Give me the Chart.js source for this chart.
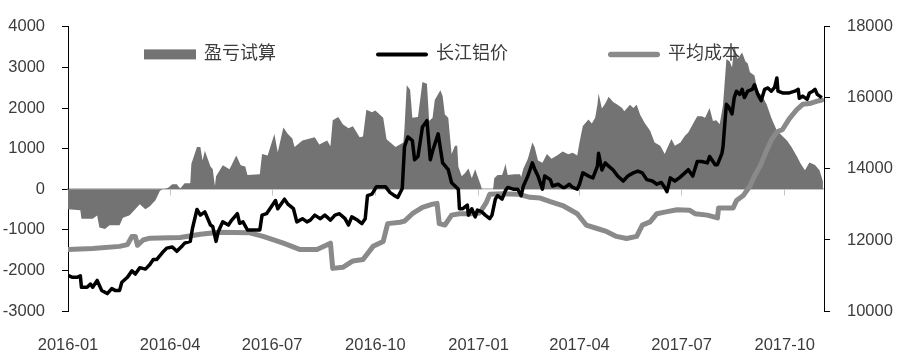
<!DOCTYPE html>
<html lang="zh-CN">

<head>
    <meta charset="UTF-8" />
    <title>盈亏试算 | 长江铝价 | 平均成本</title>
    <script src="https://cdn.jsdelivr.net/npm/chart.js"></script>
    <style>
        body { margin: 0; background: #fff; }
    </style>
</head>

<body>
    <canvas id="profitChart" width="900" height="363"></canvas>

    <script>
        // x values are days counted from 2016-01-01
        const quarterDays = [0, 91, 182, 274, 366, 456, 547, 639];
        const quarterLabels = ['2016-01', '2016-04', '2016-07', '2016-10', '2017-01', '2017-04', '2017-07', '2017-10'];

        // 盈亏试算 (left axis)
        const profitDays = [0, 11, 12, 22, 26, 28, 33, 37, 46, 49, 55, 64, 69, 73, 78, 82, 85, 89, 93, 97, 100, 104, 109, 110, 115, 118, 120, 122, 127, 129, 131, 132, 138, 144, 150, 154, 158, 160, 171, 173, 178, 184, 187, 192, 196, 200, 202, 209, 220, 224, 231, 234, 236, 241, 245, 250, 254, 260, 263, 266, 271, 274, 281, 284, 292, 299, 300, 302, 305, 307, 312, 316, 320, 322, 325, 327, 332, 334, 336, 339, 342, 345, 347, 348, 351, 354, 357, 360, 363, 365, 368, 369, 379, 380, 383, 387, 389, 390, 392, 398, 403, 404, 406, 410, 414, 416, 419, 423, 427, 431, 436, 441, 446, 450, 454, 456, 459, 464, 467, 470, 472, 473, 476, 479, 482, 486, 490, 494, 496, 501, 504, 507, 510, 514, 519, 523, 528, 532, 534, 538, 541, 546, 550, 553, 557, 561, 565, 568, 572, 575, 578, 581, 584, 587, 590, 592, 594, 597, 601, 604, 606, 608, 612, 615, 619, 623, 627, 632, 641, 645, 650, 653, 657, 661, 666, 670, 673];
        const profitValues = [-490, -520, -730, -730, -650, -940, -980, -890, -890, -700, -640, -370, -490, -420, -270, -40, 0, 30, 120, 120, 20, 150, 150, 630, 1040, 1040, 710, 950, 560, 500, 80, 320, 590, 490, 830, 590, 560, 350, 370, 870, 830, 1360, 910, 1520, 1360, 1250, 1040, 1200, 1280, 1100, 1200, 1060, 1700, 1780, 1600, 1500, 1550, 1280, 1300, 1960, 1900, 1940, 1760, 1230, 1040, 1150, 1500, 2560, 2450, 1760, 1780, 2640, 2600, 1680, 1760, 2200, 2440, 2300, 1840, 1760, 870, 1070, 1070, 560, 320, 400, 510, 270, 490, 330, 100, 0, 0, 270, 350, 350, 520, 630, 350, 370, 370, 300, 510, 750, 1150, 1040, 710, 650, 870, 750, 830, 930, 860, 900, 830, 1150, 1560, 1720, 1620, 1760, 2080, 2360, 1990, 2110, 2280, 2150, 2080, 2000, 1920, 2080, 2000, 2080, 1840, 1640, 1440, 1150, 1070, 870, 1000, 1240, 1070, 1150, 1320, 1400, 1600, 1800, 1800, 1760, 2000, 1680, 1700, 1600, 2080, 3210, 3150, 3000, 3530, 3210, 3370, 3150, 3100, 2880, 2800, 2400, 2300, 2080, 1760, 1440, 1200, 1040, 800, 640, 470, 660, 600, 470, 200];

        // 长江铝价 (right axis)
        const priceDays = [0, 4, 8, 11, 12, 17, 20, 22, 26, 30, 35, 39, 42, 46, 48, 53, 57, 60, 64, 69, 73, 76, 79, 84, 88, 93, 97, 102, 104, 109, 111, 115, 118, 122, 127, 129, 132, 134, 138, 143, 146, 151, 153, 156, 160, 167, 171, 173, 177, 182, 185, 187, 193, 196, 201, 204, 209, 213, 216, 220, 225, 229, 234, 238, 242, 247, 250, 253, 258, 262, 265, 267, 271, 275, 283, 287, 291, 294, 298, 300, 303, 307, 309, 312, 316, 320, 323, 325, 330, 334, 339, 342, 345, 348, 349, 352, 356, 357, 360, 363, 365, 369, 372, 376, 378, 381, 383, 387, 390, 392, 397, 401, 404, 406, 410, 414, 416, 419, 423, 425, 430, 432, 437, 441, 443, 447, 450, 454, 456, 459, 464, 468, 472, 473, 476, 479, 482, 486, 490, 495, 499, 504, 508, 512, 516, 521, 525, 529, 532, 534, 537, 541, 545, 550, 553, 557, 561, 565, 570, 572, 577, 579, 583, 584, 586, 587, 589, 592, 594, 596, 599, 601, 603, 606, 610, 612, 615, 618, 621, 624, 627, 630, 632, 633, 637, 643, 648, 651, 652, 655, 659, 661, 664, 666, 668, 672];
        const priceValues = [11000, 10950, 10950, 10990, 10670, 10670, 10760, 10670, 10860, 10580, 10490, 10630, 10580, 10580, 10810, 10950, 11130, 11040, 11220, 11180, 11310, 11450, 11450, 11640, 11770, 11800, 11680, 11840, 11910, 11960, 12330, 12860, 12700, 12790, 12420, 12380, 11960, 12240, 12510, 12420, 12560, 12740, 12470, 12510, 12280, 12280, 12280, 12700, 12740, 12970, 13110, 12880, 13150, 13010, 12880, 12510, 12600, 12510, 12560, 12700, 12600, 12700, 12560, 12700, 12740, 12600, 12420, 12650, 12560, 12460, 12600, 13250, 13290, 13500, 13500, 13340, 13250, 13200, 13450, 14630, 14900, 14800, 14260, 14350, 15180, 15360, 14260, 14500, 14990, 14170, 13980, 13610, 13520, 13430, 12880, 12880, 12980, 12700, 12880, 12650, 12840, 12790, 12700, 12600, 12700, 13150, 13250, 13150, 13390, 13480, 13430, 13430, 13250, 13520, 13800, 14170, 14000, 13800, 13430, 13800, 13700, 13520, 13570, 13480, 13480, 13570, 13480, 13430, 13570, 13890, 13800, 13750, 14080, 14440, 13970, 14170, 14080, 13970, 13800, 13660, 13800, 13890, 13940, 13890, 13700, 13660, 13570, 13620, 13480, 13360, 13750, 13660, 13750, 13890, 13980, 13800, 14210, 14210, 14170, 14350, 14120, 14120, 14440, 14630, 15450, 15820, 15750, 15550, 16010, 16190, 16100, 16240, 16010, 16190, 16240, 16370, 16100, 15920, 16240, 16280, 16190, 16300, 16560, 16190, 16140, 16140, 16190, 16240, 15990, 16050, 15960, 16140, 16190, 16240, 16100, 16010];

        // 平均成本 (right axis)
        const costDays = [0, 22, 46, 53, 57, 60, 62, 67, 73, 91, 100, 118, 135, 162, 174, 192, 207, 222, 234, 236, 245, 254, 263, 272, 281, 285, 296, 300, 307, 316, 325, 329, 331, 336, 342, 349, 360, 367, 373, 376, 387, 401, 412, 421, 430, 441, 454, 462, 471, 480, 489, 498, 507, 512, 519, 525, 533, 543, 554, 559, 570, 579, 580, 593, 596, 602, 608, 612, 617, 623, 627, 632, 637, 643, 650, 655, 661, 668, 672];
        const costValues = [11730, 11760, 11820, 11870, 12100, 12100, 11850, 12000, 12050, 12060, 12070, 12160, 12220, 12200, 12100, 11910, 11730, 11730, 11910, 11200, 11230, 11410, 11450, 11820, 11960, 12460, 12500, 12530, 12740, 12920, 13010, 13030, 12460, 12420, 12700, 12740, 12740, 12760, 13060, 13290, 13300, 13290, 13200, 13180, 13080, 12970, 12740, 12420, 12330, 12240, 12100, 12040, 12100, 12420, 12510, 12740, 12790, 12850, 12840, 12740, 12700, 12620, 12900, 12900, 13110, 13250, 13520, 13800, 14080, 14530, 14810, 15040, 15110, 15410, 15680, 15820, 15840, 15910, 15940];

        const toPoints = (days, values) => days.map((d, i) => ({ x: d, y: values[i] }));

        const textColor = '#3c3c3c';
        const fontFamily = '"Liberation Sans", "Noto Sans CJK SC", sans-serif';
        const axisFont = { family: fontFamily, size: 16.5 };

        const quarterTicks = scale => {
            scale.ticks = quarterDays.map(v => ({ value: v }));
        };

        // one-row legend drawn inside the plot, over the data
        const inlineLegend = {
            id: 'inlineLegend',
            afterDatasetsDraw(chart, args, opts) {
                const { ctx } = chart;
                const { top, left, right } = chart.chartArea;
                ctx.save();
                ctx.font = `${opts.fontSize}px ${fontFamily}`;
                const items = chart.data.datasets.map(ds => ({
                    ds,
                    w: opts.boxWidth + opts.textGap + ctx.measureText(ds.label).width
                }));
                const total = items.reduce((s, it) => s + it.w, 0) + opts.itemGap * (items.length - 1);
                let x = (left + right) / 2 - total / 2 + opts.shiftX;
                const y = top + opts.offsetY;
                items.forEach(({ ds, w }) => {
                    if (ds.fill) {
                        ctx.fillStyle = ds.backgroundColor;
                        ctx.fillRect(x, y - opts.boxHeight / 2, opts.boxWidth, opts.boxHeight);
                    } else {
                        const lw = ds.borderWidth + 0.5;
                        ctx.strokeStyle = ds.borderColor;
                        ctx.lineWidth = lw;
                        ctx.lineCap = 'round';
                        ctx.beginPath();
                        ctx.moveTo(x + lw / 2, y);
                        ctx.lineTo(x + opts.boxWidth - lw / 2, y);
                        ctx.stroke();
                    }
                    ctx.fillStyle = textColor;
                    ctx.textBaseline = 'middle';
                    ctx.textAlign = 'left';
                    ctx.fillText(ds.label, x + opts.boxWidth + opts.textGap, y);
                    x += w + opts.itemGap;
                });
                ctx.restore();
            }
        };

        new Chart(document.getElementById('profitChart'), {
            type: 'line',
            data: {
                datasets: [
                    {
                        label: '盈亏试算',
                        data: toPoints(profitDays, profitValues),
                        yAxisID: 'y',
                        fill: 'origin',
                        backgroundColor: '#737373',
                        borderColor: '#737373',
                        borderWidth: 0,
                        pointRadius: 0,
                        order: 3
                    },
                    {
                        label: '长江铝价',
                        data: toPoints(priceDays, priceValues),
                        yAxisID: 'y1',
                        fill: false,
                        borderColor: '#000000',
                        backgroundColor: '#000000',
                        borderWidth: 3.5,
                        borderJoinStyle: 'round',
                        pointRadius: 0,
                        order: 1
                    },
                    {
                        label: '平均成本',
                        data: toPoints(costDays, costValues),
                        yAxisID: 'y1',
                        fill: false,
                        borderColor: '#8a8a8a',
                        backgroundColor: '#8a8a8a',
                        borderWidth: 5,
                        borderJoinStyle: 'round',
                        borderCapStyle: 'round',
                        pointRadius: 0,
                        order: 2
                    }
                ]
            },
            options: {
                responsive: false,
                animation: false,
                layout: { padding: { top: 21, left: 0, right: 0, bottom: 0 } },
                plugins: {
                    tooltip: { enabled: false },
                    legend: { display: false },
                    inlineLegend: {
                        fontSize: 18,
                        boxWidth: 52,
                        boxHeight: 10,
                        textGap: 8,
                        itemGap: 100,
                        offsetY: 27.5,
                        shiftX: -4
                    }
                },
                scales: {
                    x: {
                        type: 'linear',
                        position: 'bottom',
                        min: 0,
                        max: 674,
                        afterBuildTicks: quarterTicks,
                        afterFit: s => { s.height = 52; },
                        grid: { display: false },
                        border: { display: false },
                        ticks: {
                            autoSkip: false,
                            maxRotation: 0,
                            padding: 17,
                            color: textColor,
                            font: axisFont,
                            callback: v => quarterLabels[quarterDays.indexOf(v)]
                        }
                    },
                    // zero line with quarter tick marks
                    x2: {
                        type: 'linear',
                        position: { y: 0 },
                        min: 0,
                        max: 674,
                        afterBuildTicks: quarterTicks,
                        grid: { drawOnChartArea: false, drawTicks: true, tickLength: 6, color: '#c4c4c4' },
                        border: { color: '#c4c4c4', width: 1.5 },
                        ticks: { display: false }
                    },
                    y: {
                        position: 'left',
                        min: -3000,
                        max: 4000,
                        afterFit: s => { s.width = 68; },
                        grid: { drawOnChartArea: false, drawTicks: true, tickLength: 6, color: '#000' },
                        border: { color: '#000', width: 1 },
                        ticks: {
                            stepSize: 1000,
                            padding: 17,
                            color: textColor,
                            font: axisFont,
                            callback: v => String(v)
                        }
                    },
                    y1: {
                        position: 'right',
                        min: 10000,
                        max: 18000,
                        afterFit: s => { s.width = 76; },
                        grid: { drawOnChartArea: false, drawTicks: true, tickLength: 6, color: '#000' },
                        border: { color: '#000', width: 1 },
                        ticks: {
                            stepSize: 2000,
                            padding: 17,
                            color: textColor,
                            font: axisFont,
                            callback: v => String(v)
                        }
                    }
                }
            },
            plugins: [inlineLegend]
        });
    </script>
</body>

</html>
